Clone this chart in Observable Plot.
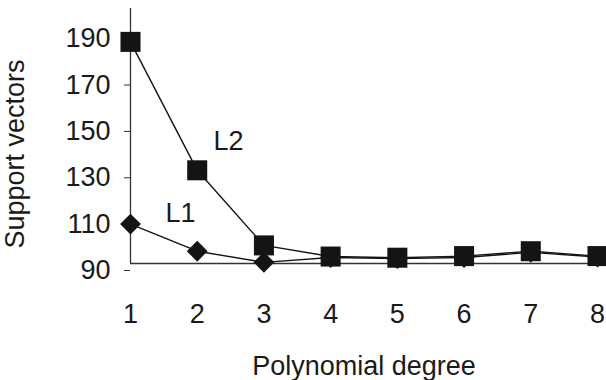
<!DOCTYPE html>
<html>
<head>
<meta charset="utf-8">
<script src="https://cdn.jsdelivr.net/npm/d3@7"></script>
<script src="https://cdn.jsdelivr.net/npm/@observablehq/plot@0.6"></script>
<style>
  html, body { margin: 0; padding: 0; background: #fff; }
</style>
</head>
<body>
<div id="chart"></div>
<script>
const degrees = [1, 2, 3, 4, 5, 6, 7, 8];
const l1Values = [107, 95.3, 90.5, 92.6, 92.1, 92.6, 94.8, 92.8];
const l2Values = [185.6, 130.2, 97.8, 93, 92.5, 93.2, 95.3, 93.2];
const yTicks = [90, 110, 130, 150, 170, 190];
const seriesLabels = [
  {text: "L2", x: 2.47, y: 142.5},
  {text: "L1", x: 1.75, y: 111.8}
];

const l1 = degrees.map((d, i) => ({x: d, y: l1Values[i]}));
const l2 = degrees.map((d, i) => ({x: d, y: l2Values[i]}));
const ink = "#141414";
const fs = 27;

const chart = Plot.plot({
  width: 606,
  height: 380,
  marginLeft: 130,
  marginRight: 9,
  marginTop: 8,
  marginBottom: 117,
  style: {fontFamily: "'Liberation Sans', Arial, sans-serif", fontSize: fs + "px", color: "#1a1a1a", background: "#fff"},
  x: {domain: [1, 8]},
  y: {domain: [90, 200]},
  marks: [
    Plot.axisX({ticks: degrees, tickSize: 0, tickPadding: 40, tickFormat: d => String(d), fontSize: fs, label: null}),
    Plot.axisY({ticks: yTicks, tickSize: 6, tickPadding: 14, fontSize: fs, dy: 7, label: null, stroke: "#333"}),
    Plot.ruleX([1], {stroke: "#333", strokeWidth: 1.3}),
    Plot.ruleY([90], {stroke: "#333", strokeWidth: 1.3}),
    Plot.line(l1, {x: "x", y: "y", stroke: ink, strokeWidth: 1.4}),
    Plot.dot(l1, {x: "x", y: "y", symbol: "diamond2", r: 9.4, fill: ink, stroke: "none"}),
    Plot.line(l2, {x: "x", y: "y", stroke: ink, strokeWidth: 1.4}),
    Plot.dot(l2, {x: "x", y: "y", symbol: "square", r: 11.3, fill: ink, stroke: "none"}),
    Plot.text(seriesLabels, {x: "x", y: "y", text: "text", fontSize: fs, fill: "#1a1a1a"}),
    Plot.text(["Polynomial degree"], {frameAnchor: "bottom", dy: 111, fontSize: fs, fill: "#1a1a1a"}),
    Plot.text(["Support vectors"], {frameAnchor: "left", textAnchor: "middle", dx: -115, dy: 18, rotate: -90, fontSize: fs, fill: "#1a1a1a"})
  ]
});
document.getElementById("chart").appendChild(chart);
</script>
</body>
</html>
